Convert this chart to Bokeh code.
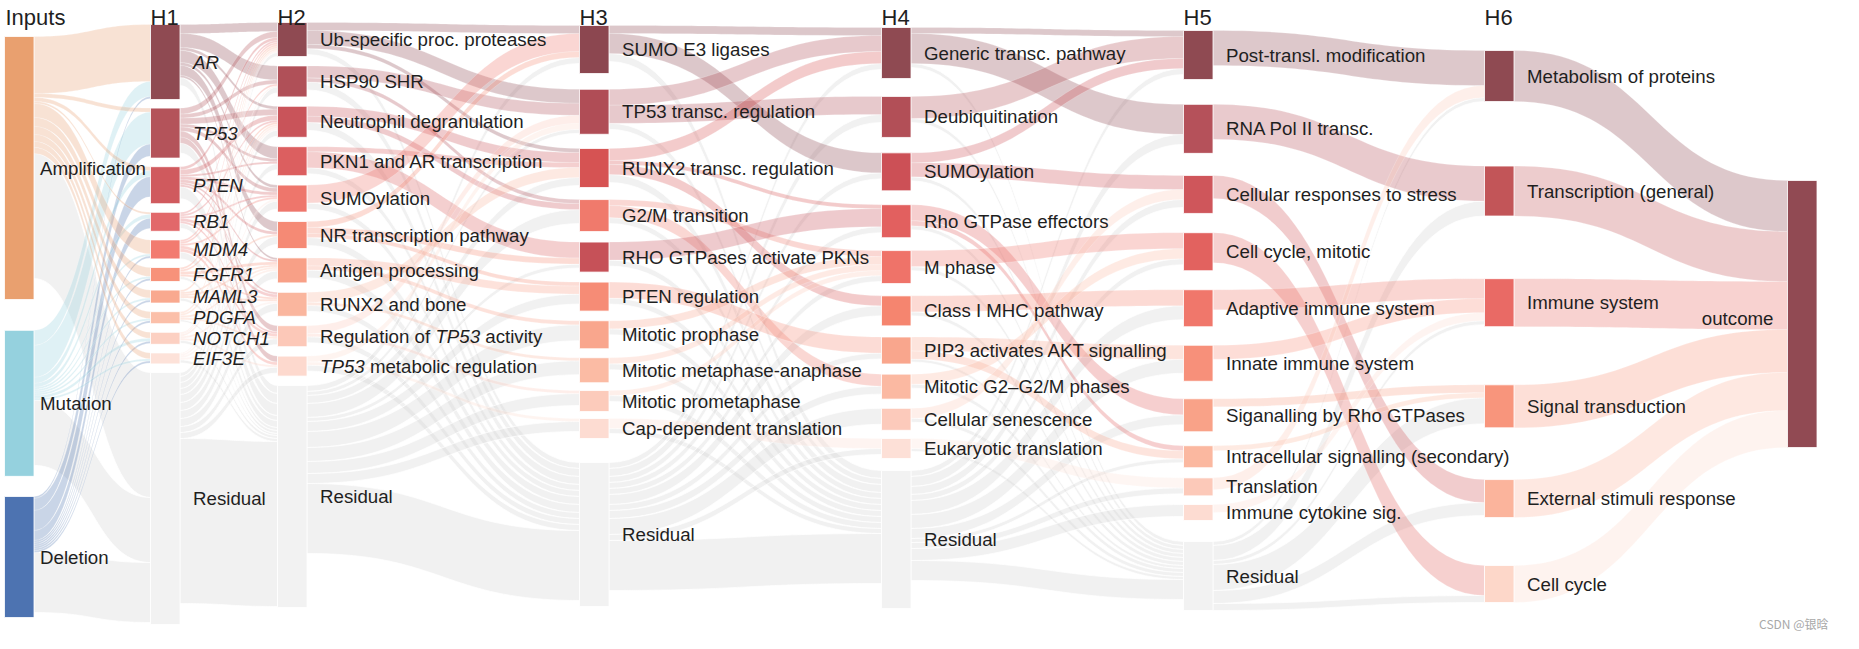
from bokeh.plotting import figure
from bokeh.models import Range1d, ColumnDataSource
from bokeh.core.properties import value
from bokeh.embed import file_html
from bokeh.resources import INLINE

# ------------------------------------------------------------------ data
col_titles = ["Inputs", "H1", "H2", "H3", "H4", "H5", "H6", ""]

inputs_names = ["Amplification", "Mutation", "Deletion"]
inputs_values = [263, 146, 121]

h1_names = ["AR", "TP53", "PTEN", "RB1", "MDM4", "FGFR1", "MAML3", "PDGFA",
            "NOTCH1", "EIF3E", "Residual"]
h1_values = [75, 50, 37, 19, 19, 14, 13, 12, 12, 11, 252]

h2_names = ["Ub-specific proc. proteases", "HSP90 SHR", "Neutrophil degranulation",
            "PKN1 and AR transcription", "SUMOylation", "NR transcription pathway",
            "Antigen processing", "RUNX2 and bone", "Regulation of TP53 activity",
            "TP53 metabolic regulation", "Residual"]
h2_values = [34, 31, 31, 29, 27, 27, 25, 24, 21, 20, 222]

h3_names = ["SUMO E3 ligases", "TP53 transc. regulation", "RUNX2 transc. regulation",
            "G2/M transition", "RHO GTPases activate PKNs", "PTEN regulation",
            "Mitotic prophase", "Mitotic metaphase-anaphase", "Mitotic prometaphase",
            "Cap-dependent translation", "Residual"]
h3_values = [48, 45, 39, 32, 30, 29, 28, 25, 21, 20, 144]

h4_names = ["Generic transc. pathway", "Deubiquitination", "SUMOylation",
            "Rho GTPase effectors", "M phase", "Class I MHC pathway",
            "PIP3 activates AKT signalling", "Mitotic G2\u2013G2/M phases",
            "Cellular senescence", "Eukaryotic translation", "Residual"]
h4_values = [51, 41, 38, 33, 33, 30, 27, 25, 22, 20, 138]

h5_names = ["Post-transl. modification", "RNA Pol II transc.",
            "Cellular responses to stress", "Cell cycle, mitotic",
            "Adaptive immune system", "Innate immune system",
            "Siganalling by Rho GTPases", "Intracellular signalling (secondary)",
            "Translation", "Immune cytokine sig.", "Residual"]
h5_values = [49, 49, 38, 38, 37, 36, 33, 22, 18, 16, 69]

h6_names = ["Metabolism of proteins", "Transcription (general)", "Immune system",
            "Signal transduction", "External stimuli response", "Cell cycle"]
h6_values = [51, 50, 48, 43, 38, 37]

out_names = ["outcome"]
out_values = [267]

links_in_h1 = [
    ("Amplification", "AR", 57), ("Mutation", "AR", 15), ("Deletion", "AR", 2),
    ("Amplification", "TP53", 4), ("Mutation", "TP53", 32), ("Deletion", "TP53", 12),
    ("Amplification", "PTEN", 4), ("Mutation", "PTEN", 6), ("Deletion", "PTEN", 20),
    ("Amplification", "RB1", 2), ("Mutation", "RB1", 4), ("Deletion", "RB1", 10),
    ("Amplification", "MDM4", 14), ("Mutation", "MDM4", 2), ("Deletion", "MDM4", 2),
    ("Amplification", "FGFR1", 9), ("Mutation", "FGFR1", 2), ("Deletion", "FGFR1", 2),
    ("Amplification", "MAML3", 8), ("Mutation", "MAML3", 2), ("Deletion", "MAML3", 2),
    ("Amplification", "PDGFA", 7), ("Mutation", "PDGFA", 2), ("Deletion", "PDGFA", 2),
    ("Amplification", "NOTCH1", 6), ("Mutation", "NOTCH1", 3), ("Deletion", "NOTCH1", 2),
    ("Amplification", "EIF3E", 6), ("Mutation", "EIF3E", 2), ("Deletion", "EIF3E", 2),
    ("Amplification", "Residual", 125), ("Mutation", "Residual", 65), ("Deletion", "Residual", 60),
]

links_h1_h2 = [
    ("AR", "Ub-specific proc. proteases", 9), ("AR", "HSP90 SHR", 14),
    ("AR", "Neutrophil degranulation", 3), ("AR", "PKN1 and AR transcription", 12),
    ("AR", "SUMOylation", 3), ("AR", "NR transcription pathway", 10),
    ("AR", "Antigen processing", 2), ("AR", "Residual", 8),
    ("TP53", "Ub-specific proc. proteases", 6), ("TP53", "HSP90 SHR", 4),
    ("TP53", "Neutrophil degranulation", 6), ("TP53", "PKN1 and AR transcription", 3),
    ("TP53", "SUMOylation", 4), ("TP53", "Regulation of TP53 activity", 6),
    ("TP53", "TP53 metabolic regulation", 6), ("TP53", "Residual", 10),
    ("PTEN", "Ub-specific proc. proteases", 3), ("PTEN", "Neutrophil degranulation", 5),
    ("PTEN", "PKN1 and AR transcription", 2), ("PTEN", "SUMOylation", 3),
    ("PTEN", "NR transcription pathway", 3), ("PTEN", "Antigen processing", 2),
    ("PTEN", "RUNX2 and bone", 2), ("PTEN", "Residual", 12),
    ("RB1", "Ub-specific proc. proteases", 2), ("RB1", "Neutrophil degranulation", 2),
    ("RB1", "SUMOylation", 2), ("RB1", "RUNX2 and bone", 3),
    ("RB1", "Regulation of TP53 activity", 2), ("RB1", "Residual", 5),
    ("MDM4", "Ub-specific proc. proteases", 2), ("MDM4", "HSP90 SHR", 2),
    ("MDM4", "SUMOylation", 2), ("MDM4", "Regulation of TP53 activity", 3),
    ("MDM4", "TP53 metabolic regulation", 3), ("MDM4", "Residual", 7),
    ("FGFR1", "Ub-specific proc. proteases", 2), ("FGFR1", "Neutrophil degranulation", 2),
    ("FGFR1", "Antigen processing", 3), ("FGFR1", "RUNX2 and bone", 2), ("FGFR1", "Residual", 3),
    ("MAML3", "Ub-specific proc. proteases", 2), ("MAML3", "NR transcription pathway", 2),
    ("MAML3", "Antigen processing", 2), ("MAML3", "RUNX2 and bone", 2), ("MAML3", "Residual", 3),
    ("PDGFA", "Ub-specific proc. proteases", 2), ("PDGFA", "Neutrophil degranulation", 2),
    ("PDGFA", "Antigen processing", 2), ("PDGFA", "Regulation of TP53 activity", 2),
    ("PDGFA", "Residual", 2),
    ("NOTCH1", "Ub-specific proc. proteases", 1), ("NOTCH1", "HSP90 SHR", 1),
    ("NOTCH1", "Neutrophil degranulation", 2), ("NOTCH1", "Antigen processing", 2),
    ("NOTCH1", "TP53 metabolic regulation", 2), ("NOTCH1", "Residual", 3),
    ("EIF3E", "Ub-specific proc. proteases", 1), ("EIF3E", "Neutrophil degranulation", 2),
    ("EIF3E", "SUMOylation", 2), ("EIF3E", "RUNX2 and bone", 2), ("EIF3E", "Residual", 3),
    ("Residual", "Ub-specific proc. proteases", 4), ("Residual", "HSP90 SHR", 6),
    ("Residual", "Neutrophil degranulation", 6), ("Residual", "PKN1 and AR transcription", 6),
    ("Residual", "SUMOylation", 8), ("Residual", "NR transcription pathway", 8),
    ("Residual", "Antigen processing", 8), ("Residual", "RUNX2 and bone", 8),
    ("Residual", "Regulation of TP53 activity", 6), ("Residual", "TP53 metabolic regulation", 6),
    ("Residual", "Residual", 165),
]

links_h2_h3 = [
    ("Ub-specific proc. proteases", "TP53 transc. regulation", 14),
    ("Ub-specific proc. proteases", "SUMO E3 ligases", 8),
    ("Ub-specific proc. proteases", "RUNX2 transc. regulation", 4),
    ("Ub-specific proc. proteases", "Residual", 6),
    ("HSP90 SHR", "TP53 transc. regulation", 12), ("HSP90 SHR", "G2/M transition", 4),
    ("HSP90 SHR", "Residual", 8),
    ("Neutrophil degranulation", "RUNX2 transc. regulation", 10),
    ("Neutrophil degranulation", "G2/M transition", 6), ("Neutrophil degranulation", "Residual", 8),
    ("PKN1 and AR transcription", "RHO GTPases activate PKNs", 16),
    ("PKN1 and AR transcription", "RUNX2 transc. regulation", 5),
    ("PKN1 and AR transcription", "Residual", 6),
    ("SUMOylation", "SUMO E3 ligases", 18), ("SUMOylation", "Residual", 6),
    ("NR transcription pathway", "SUMO E3 ligases", 6),
    ("NR transcription pathway", "RHO GTPases activate PKNs", 6),
    ("NR transcription pathway", "PTEN regulation", 4), ("NR transcription pathway", "Residual", 8),
    ("Antigen processing", "PTEN regulation", 8), ("Antigen processing", "Mitotic prophase", 4),
    ("Antigen processing", "Residual", 8),
    ("RUNX2 and bone", "RUNX2 transc. regulation", 10),
    ("RUNX2 and bone", "Mitotic metaphase-anaphase", 3), ("RUNX2 and bone", "Residual", 6),
    ("Regulation of TP53 activity", "TP53 transc. regulation", 8),
    ("Regulation of TP53 activity", "Mitotic prometaphase", 3),
    ("Regulation of TP53 activity", "Residual", 6),
    ("TP53 metabolic regulation", "TP53 transc. regulation", 6),
    ("TP53 metabolic regulation", "Cap-dependent translation", 3),
    ("TP53 metabolic regulation", "Residual", 6),
    ("Residual", "SUMO E3 ligases", 6), ("Residual", "TP53 transc. regulation", 4),
    ("Residual", "RUNX2 transc. regulation", 8), ("Residual", "G2/M transition", 14),
    ("Residual", "RHO GTPases activate PKNs", 4), ("Residual", "PTEN regulation", 10),
    ("Residual", "Mitotic prophase", 16), ("Residual", "Mitotic metaphase-anaphase", 14),
    ("Residual", "Mitotic prometaphase", 12), ("Residual", "Cap-dependent translation", 10),
    ("Residual", "Residual", 70),
]

links_h3_h4 = [
    ("SUMO E3 ligases", "Generic transc. pathway", 8), ("SUMO E3 ligases", "SUMOylation", 20),
    ("SUMO E3 ligases", "Residual", 8),
    ("TP53 transc. regulation", "Generic transc. pathway", 16),
    ("TP53 transc. regulation", "Deubiquitination", 18), ("TP53 transc. regulation", "Residual", 6),
    ("RUNX2 transc. regulation", "Generic transc. pathway", 12),
    ("RUNX2 transc. regulation", "Rho GTPase effectors", 4),
    ("RUNX2 transc. regulation", "Class I MHC pathway", 10),
    ("RUNX2 transc. regulation", "Residual", 8),
    ("G2/M transition", "M phase", 6), ("G2/M transition", "Mitotic G2\u2013G2/M phases", 12),
    ("G2/M transition", "Residual", 6),
    ("RHO GTPases activate PKNs", "Rho GTPase effectors", 18),
    ("RHO GTPases activate PKNs", "Residual", 6),
    ("PTEN regulation", "PIP3 activates AKT signalling", 16), ("PTEN regulation", "Residual", 6),
    ("Mitotic prophase", "M phase", 8), ("Mitotic prophase", "Residual", 6),
    ("Mitotic metaphase-anaphase", "M phase", 6), ("Mitotic metaphase-anaphase", "Residual", 6),
    ("Mitotic prometaphase", "M phase", 5), ("Mitotic prometaphase", "Residual", 6),
    ("Cap-dependent translation", "Eukaryotic translation", 10),
    ("Cap-dependent translation", "Residual", 5),
    ("Residual", "Generic transc. pathway", 6), ("Residual", "Deubiquitination", 8),
    ("Residual", "SUMOylation", 6), ("Residual", "Rho GTPase effectors", 6),
    ("Residual", "M phase", 6), ("Residual", "Class I MHC pathway", 10),
    ("Residual", "PIP3 activates AKT signalling", 6), ("Residual", "Mitotic G2\u2013G2/M phases", 8),
    ("Residual", "Cellular senescence", 16), ("Residual", "Eukaryotic translation", 6),
    ("Residual", "Residual", 50),
]

links_h4_h5 = [
    ("Generic transc. pathway", "Post-transl. modification", 6),
    ("Generic transc. pathway", "RNA Pol II transc.", 30), ("Generic transc. pathway", "Residual", 4),
    ("Deubiquitination", "Post-transl. modification", 22), ("Deubiquitination", "Residual", 4),
    ("SUMOylation", "Post-transl. modification", 10),
    ("SUMOylation", "Cellular responses to stress", 14), ("SUMOylation", "Residual", 4),
    ("Rho GTPase effectors", "Siganalling by Rho GTPases", 16),
    ("Rho GTPase effectors", "Intracellular signalling (secondary)", 5),
    ("Rho GTPase effectors", "Residual", 4),
    ("M phase", "Cell cycle, mitotic", 16), ("M phase", "Residual", 4),
    ("Class I MHC pathway", "Adaptive immune system", 16), ("Class I MHC pathway", "Residual", 4),
    ("PIP3 activates AKT signalling", "Innate immune system", 14),
    ("PIP3 activates AKT signalling", "Intracellular signalling (secondary)", 8),
    ("PIP3 activates AKT signalling", "Residual", 3),
    ("Mitotic G2\u2013G2/M phases", "Cell cycle, mitotic", 10),
    ("Mitotic G2\u2013G2/M phases", "Residual", 4),
    ("Cellular senescence", "Cellular responses to stress", 10), ("Cellular senescence", "Residual", 4),
    ("Eukaryotic translation", "Translation", 10), ("Eukaryotic translation", "Residual", 3),
    ("Residual", "Post-transl. modification", 6), ("Residual", "RNA Pol II transc.", 10),
    ("Residual", "Cellular responses to stress", 8), ("Residual", "Cell cycle, mitotic", 6),
    ("Residual", "Adaptive immune system", 14), ("Residual", "Innate immune system", 14),
    ("Residual", "Siganalling by Rho GTPases", 10),
    ("Residual", "Intracellular signalling (secondary)", 4),
    ("Residual", "Translation", 6), ("Residual", "Immune cytokine sig.", 12),
    ("Residual", "Residual", 20),
]

links_h5_h6 = [
    ("Post-transl. modification", "Metabolism of proteins", 35),
    ("RNA Pol II transc.", "Transcription (general)", 35),
    ("Cellular responses to stress", "External stimuli response", 23),
    ("Cell cycle, mitotic", "Cell cycle", 30),
    ("Adaptive immune system", "Immune system", 20),
    ("Innate immune system", "Immune system", 14),
    ("Siganalling by Rho GTPases", "Signal transduction", 8),
    ("Intracellular signalling (secondary)", "Signal transduction", 5),
    ("Translation", "Metabolism of proteins", 12),
    ("Immune cytokine sig.", "Immune system", 8),
    ("Residual", "Metabolism of proteins", 4), ("Residual", "Transcription (general)", 15),
    ("Residual", "Immune system", 4), ("Residual", "Signal transduction", 26),
    ("Residual", "External stimuli response", 13), ("Residual", "Cell cycle", 7),
]

links_h6_out = [
    ("Metabolism of proteins", "outcome", 51), ("Transcription (general)", "outcome", 50),
    ("Immune system", "outcome", 48), ("Signal transduction", "outcome", 43),
    ("External stimuli response", "outcome", 38), ("Cell cycle", "outcome", 37),
]

# ------------------------------------------------------------------ styles / layout
RES = "#f2f2f2"
inputs_colors = ["#e9a06f", "#95d1de", "#4d73b1"]
h1_colors = ["#8f4a52", "#b4535a", "#d05a5e", "#e2686a", "#f27b70", "#f7927a", "#f9a98f",
             "#fbbfa9", "#fcd0c2", "#fde2d9", RES]
h2_colors = ["#8f4a52", "#b05058", "#c9545a", "#dc5f60", "#ee766c", "#f58a75", "#f8a087",
             "#fab69e", "#fcc8b8", "#fdd9ce", RES]
h3_colors = ["#8c4750", "#b04d56", "#d65353", "#f07a6c", "#c65158", "#f68c76", "#f9a68d",
             "#fbbba4", "#fccbbb", "#fddcd2", RES]
h4_colors = ["#8f4a52", "#b24f57", "#cc5056", "#e2605f", "#ef7369", "#f5856f", "#f9a68d",
             "#fbb9a2", "#fccabb", "#fde0d7", RES]
h5_colors = ["#8f4a52", "#b5515a", "#cf565b", "#e2625f", "#f0776b", "#f7907a", "#f9a288",
             "#fbb8a0", "#fcc9b9", "#fddcd2", RES]
h6_colors = ["#8f4a52", "#c25558", "#e96a65", "#f8957c", "#fbb49c", "#fdd7c9"]
out_colors = ["#914a53"]

columns = [
    (inputs_names, inputs_values, inputs_colors),
    (h1_names, h1_values, h1_colors),
    (h2_names, h2_values, h2_colors),
    (h3_names, h3_values, h3_colors),
    (h4_names, h4_values, h4_colors),
    (h5_names, h5_values, h5_colors),
    (h6_names, h6_values, h6_colors),
    (out_names, out_values, out_colors),
]
layers = [links_in_h1, links_h1_h2, links_h2_h3, links_h3_h4, links_h4_h5,
          links_h5_h6, links_h6_out]

col_x = [12, 158, 285, 587, 889, 1191, 1492, 1795]
col_top = [44, 32, 30, 33, 35, 38, 58, 188]
col_bottom = [625, 632, 615, 614, 616, 618, 610, None]
col_mode = ["prop", "const", "const", "prop", "prop", "prop", "prop", "const"]
col_resgap = [None, None, None, 24, 12, 21, None, None]
label_off = [6, 13, 13, 13, 13, 13, 13, 13]
NODE_W = 29.5
K = 1.0
FONT = "Liberation Sans"
LABEL_SIZE = 18.7
TEXT_COLOR = "#1f1f1f"

# ------------------------------------------------------------------ node layout
nodes = []  # per column: dict name -> info
for c, (names, vals, cols_) in enumerate(columns):
    h = [v * K for v in vals]
    n = len(h)
    top = col_top[c]
    ys = [top]
    if n > 1:
        w = [((h[i] + h[i + 1]) / 2.0) if col_mode[c] == "prop" else 1.0 for i in range(n - 1)]
        fixed = 0.0
        if col_resgap[c] is not None:
            fixed = col_resgap[c]
            w[-1] = 0.0
        total_gap = col_bottom[c] - top - sum(h)
        s = (total_gap - fixed) / sum(w)
        gaps = [wi * s for wi in w]
        if col_resgap[c] is not None:
            gaps[-1] = col_resgap[c]
        for i in range(n - 1):
            ys.append(ys[-1] + h[i] + gaps[i])
    d = {}
    for i, nm in enumerate(names):
        d[nm] = dict(y0=ys[i], y1=ys[i] + h[i], x0=col_x[c], x1=col_x[c] + NODE_W,
                     color=cols_[i], out_off=0.0, in_off=0.0)
    nodes.append(d)

# ------------------------------------------------------------------ links
def bez(x0, x1, ya, yb, n=40):
    xm = (x0 + x1) / 2.0
    xs, ys = [], []
    for i in range(n):
        t = i / (n - 1.0)
        mt = 1 - t
        xs.append(mt ** 3 * x0 + 3 * mt * mt * t * xm + 3 * mt * t * t * xm + t ** 3 * x1)
        ys.append(mt ** 3 * ya + 3 * mt * mt * t * ya + 3 * mt * t * t * yb + t ** 3 * yb)
    return xs, ys

gray = dict(xs=[], ys=[])
colored = dict(xs=[], ys=[], color=[])
for li, links in enumerate(layers):
    S, T = nodes[li], nodes[li + 1]
    pos = {}
    for k in sorted(range(len(links)), key=lambda k: (links[k][0], T[links[k][1]]["y0"])):
        sname, tname, v = links[k]
        sn = S[sname]
        a0 = sn["y0"] + sn["out_off"]
        sn["out_off"] += v * K
        pos[k] = [a0, a0 + v * K]
    for k in sorted(range(len(links)), key=lambda k: (links[k][1], S[links[k][0]]["y0"])):
        sname, tname, v = links[k]
        tn = T[tname]
        b0 = tn["y0"] + tn["in_off"]
        tn["in_off"] += v * K
        pos[k] += [b0, b0 + v * K]
    for k, (sname, tname, v) in enumerate(links):
        a0, a1, b0, b1 = pos[k]
        x0 = S[sname]["x1"]
        x1 = T[tname]["x0"]
        tx, ty = bez(x0, x1, a0, b0)
        bx, by = bez(x0, x1, a1, b1)
        xs = tx + bx[::-1]
        ys = ty + by[::-1]
        if sname == "Residual" or tname == "Residual":
            gray["xs"].append(xs); gray["ys"].append(ys)
        else:
            colored["xs"].append(xs); colored["ys"].append(ys)
            colored["color"].append(S[sname]["color"])

# ------------------------------------------------------------------ figure
W, H = 1843, 633
p = figure(width=W, height=H, x_range=Range1d(8, 8 + W), y_range=Range1d(8 + H, 8),
           output_backend="svg", toolbar_location=None, min_border=0)
p.axis.visible = False
p.grid.visible = False
p.outline_line_color = None
p.background_fill_color = "white"
p.border_fill_color = "white"

p.patches("xs", "ys", source=ColumnDataSource(gray), fill_color="#d2d2d2", fill_alpha=0.3,
          line_color="white", line_alpha=0.9, line_width=0.8)
p.patches("xs", "ys", source=ColumnDataSource(colored), fill_color="color", fill_alpha=0.3,
          line_color="white", line_alpha=0.35, line_width=0.6)

nd = dict(left=[], right=[], top=[], bottom=[], color=[])
for d in nodes:
    for nm, info in d.items():
        nd["left"].append(info["x0"]); nd["right"].append(info["x1"])
        nd["top"].append(info["y0"]); nd["bottom"].append(info["y1"])
        nd["color"].append(info["color"])
p.quad(left="left", right="right", top="top", bottom="bottom", source=ColumnDataSource(nd),
       fill_color="color", line_color="white", line_width=0.8)

# ------------------------------------------------------------------ labels
AW = {' ': 278, 'R': 722, 'e': 556, 'g': 556, 'u': 556, 'l': 222, 'a': 556, 't': 278,
      'i': 222, 'o': 556, 'n': 556, 'f': 278, 'T': 611, 'P': 667, '5': 556, '3': 556}

def tw(s):
    return sum(AW.get(ch, 556) for ch in s) * LABEL_SIZE / 1000.0

norm = dict(x=[], y=[], text=[], align=[])
ital = dict(x=[], y=[], text=[], align=[])

def add(dct, x, y, t, al="left"):
    dct["x"].append(x); dct["y"].append(y); dct["text"].append(t); dct["align"].append(al)

for c, d in enumerate(nodes):
    for nm, info in d.items():
        yc = (info["y0"] + info["y1"]) / 2.0
        if c == len(nodes) - 1:
            add(norm, info["x0"] - 14, yc + 4, nm, "right")
            continue
        x = info["x1"] + label_off[c]
        if c == 1 and nm != "Residual":
            add(ital, x, yc, nm)
        elif nm == "Regulation of TP53 activity":
            add(norm, x, yc, "Regulation of")
            add(ital, x + tw("Regulation of "), yc, "TP53")
            add(norm, x + tw("Regulation of TP53 "), yc, "activity")
        elif nm == "TP53 metabolic regulation":
            add(ital, x, yc, "TP53")
            add(norm, x + tw("TP53 "), yc, "metabolic regulation")
        else:
            add(norm, x, yc, nm)

p.text("x", "y", text="text", source=ColumnDataSource(norm), text_align="align",
       text_baseline="middle", text_font=value(FONT), text_font_size=value("%.1fpx" % LABEL_SIZE),
       text_color=TEXT_COLOR)
p.text("x", "y", text="text", source=ColumnDataSource(ital), text_align="align",
       text_baseline="middle", text_font=value(FONT), text_font_size=value("%.1fpx" % LABEL_SIZE),
       text_font_style="italic", text_color=TEXT_COLOR)

hd = dict(x=[], y=[], text=[])
for c, t in enumerate(col_titles):
    if t:
        hd["x"].append(col_x[c] + (1 if c == 0 else 0)); hd["y"].append(25); hd["text"].append(t)
p.text("x", "y", text="text", source=ColumnDataSource(hd), text_align="left",
       text_baseline="alphabetic", text_font=value(FONT), text_font_size=value("22px"),
       text_color=TEXT_COLOR)

p.text(x=[1836], y=[631], text=["CSDN @\u94f6\u6657"], text_align="right", text_baseline="middle",
       text_font=value("Noto Sans CJK SC"), text_font_size=value("12px"), text_color="#a8a8a8")

open("out.html", "w").write(file_html(p, INLINE, title="P-NET sankey"))
